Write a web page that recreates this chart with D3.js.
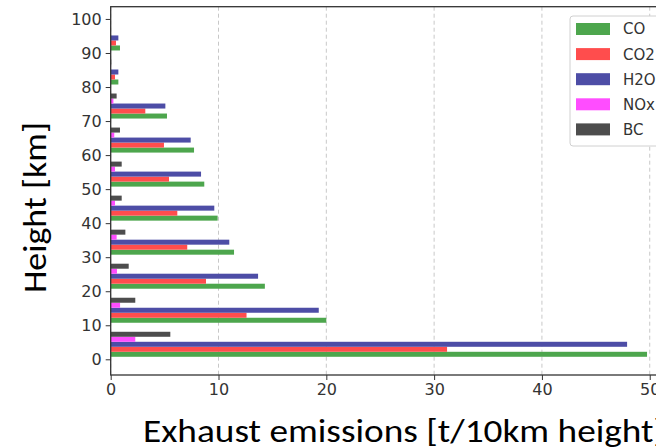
<!DOCTYPE html>
<html>
<head>
<meta charset="utf-8">
<script src="https://cdn.jsdelivr.net/npm/d3@7"></script>
<style>
  body { margin: 0; background: #fff; }
  svg { display: block; }
</style>
</head>
<body>
<script>
// Data

const heights = [0, 10, 20, 30, 40, 50, 60, 70, 80, 90]
const series = ["CO", "CO2", "H2O", "NOx", "BC"]

const co = [49.75, 20.0, 14.3, 11.44, 9.92, 8.68, 7.73, 5.22, 0.71, 0.86]
const co2 = [31.2, 12.6, 8.84, 7.1, 6.18, 5.41, 4.94, 3.21, 0.4, 0.49]
const h2o = [47.9, 19.3, 13.67, 11.0, 9.61, 8.38, 7.42, 5.07, 0.71, 0.71]
const nox = [2.28, 0.87, 0.58, 0.55, 0.4, 0.4, 0.33, 0.25, 0.03, 0.02]
const bc = [5.53, 2.28, 1.67, 1.36, 1.02, 1.02, 0.86, 0.55, 0.05, 0.03]

const xTicks = [0, 10, 20, 30, 40, 50]
const yTicks = [0, 10, 20, 30, 40, 50, 60, 70, 80, 90, 100]

const colors = ["#4da64d", "#ff4d4d", "#4d4da6", "#ff4dff", "#4d4d4d"]

const values = [co, co2, h2o, nox, bc]

// Dimensions
const width = 656
const height = 448
const margin = { top: 6.7, left: 110.7 }
const plotWidth = 580
const plotHeight = 368.3

const svg = d3
  .select("body")
  .append("svg")
  .attr("width", width)
  .attr("height", height)

const x = d3.scaleLinear().domain([0, 53.8]).range([0, plotWidth])
const y = d3.scaleLinear().domain([-4.61, 103.6]).range([plotHeight, 0])

// each 10 km group holds the five bars, stacked upwards
const inner = d3.scaleBand().domain(series).range([0.74, 8.09])

const plot = svg
  .append("g")
  .attr("transform", `translate(${margin.left}, ${margin.top})`)

// vertical dashed grid
plot
  .append("g")
  .selectAll("line")
  .data(xTicks)
  .join("line")
  .attr("x1", d => x(d))
  .attr("x2", d => x(d))
  .attr("y1", 0)
  .attr("y2", plotHeight)
  .style("stroke", "#c8c8c8")
  .style("stroke-width", 1)
  .style("stroke-dasharray", "4,3")

// Bars
const rows = []
series.forEach((s, i) => {
  heights.forEach((h, j) => {
    rows.push({ series: s, color: colors[i], h: h, value: values[i][j] })
  })
})

plot
  .append("g")
  .selectAll("rect")
  .data(rows)
  .join("rect")
  .attr("x", 0)
  .attr("y", d => y(d.h + inner(d.series) + inner.bandwidth()))
  .attr("height", d => y(d.h + inner(d.series)) - y(d.h + inner(d.series) + inner.bandwidth()))
  .attr("width", d => x(d.value))
  .attr("fill", d => d.color)

// Axes
const axisX = plot
  .append("g")
  .attr("transform", `translate(0, ${plotHeight})`)
  .call(d3.axisBottom(x).tickValues(xTicks).tickSize(5).tickPadding(4))

const axisY = plot
  .append("g")
  .call(d3.axisLeft(y).tickValues(yTicks).tickSize(5).tickPadding(4))

;[axisX, axisY].forEach(a => {
  a.selectAll("text")
    .style("font-family", "DejaVu Sans")
    .style("font-size", "16px")
    .style("fill", "#333")
  a.selectAll("line").style("stroke", "#333")
  a.select(".domain").remove()
})

// frame
plot
  .append("rect")
  .attr("x", 0)
  .attr("y", 0)
  .attr("width", plotWidth)
  .attr("height", plotHeight)
  .style("fill", "none")
  .style("stroke", "#333")
  .style("stroke-width", 1.3)

// Legend
const legend = svg.append("g").attr("transform", "translate(570, 16)")

legend
  .append("rect")
  .attr("width", 120)
  .attr("height", 130)
  .attr("rx", 3)
  .style("fill", "#fff")
  .style("stroke", "#d0d0d0")

const items = legend
  .selectAll("g")
  .data(series)
  .join("g")
  .attr("transform", (d, i) => `translate(0, ${13 + i * 25.1})`)

items
  .append("rect")
  .attr("x", 6)
  .attr("y", -6)
  .attr("width", 34)
  .attr("height", 12)
  .attr("fill", (d, i) => colors[i])

items
  .append("text")
  .attr("x", 53)
  .attr("y", 0)
  .attr("dy", "0.36em")
  .text(d => d)
  .style("font-family", "DejaVu Sans")
  .style("font-size", "15px")
  .style("fill", "#333")

// Axis labels (stretched to the widths seen in the picture)
svg
  .append("text")
  .attr("x", 143)
  .attr("y", 442)
  .attr("textLength", 522)
  .attr("lengthAdjust", "spacingAndGlyphs")
  .text("Exhaust emissions [t/10km height]")
  .style("font-family", "Carlito, Calibri, Lato")
  .style("font-size", "33px")
  .style("fill", "#000")

svg
  .append("text")
  .attr("transform", "translate(46, 293) rotate(-90)")
  .attr("textLength", 171)
  .attr("lengthAdjust", "spacingAndGlyphs")
  .text("Height [km]")
  .style("font-family", "Carlito, Calibri, Lato")
  .style("font-size", "32px")
  .style("fill", "#000")
</script>
</body>
</html>
